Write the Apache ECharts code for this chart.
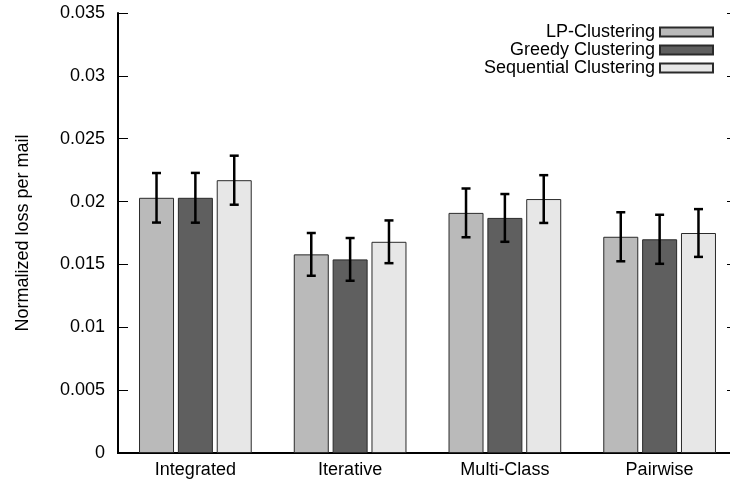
<!DOCTYPE html>
<html>
<head>
<meta charset="utf-8">
<script src="https://cdn.jsdelivr.net/npm/echarts@6/dist/echarts.min.js"></script>
<style>
  html, body { margin: 0; padding: 0; background: #fff; overflow: hidden; }
  #chart { width: 730px; height: 482px; }
</style>
</head>
<body>
<div id="chart"></div>
<script>
// Normalized loss per mail for each clustering strategy, with error-bar half-widths
const categories = ['Integrated', 'Iterative', 'Multi-Class', 'Pairwise'];
const seriesNames = ['LP-Clustering', 'Greedy Clustering', 'Sequential Clustering'];

const lpLoss = [0.0203, 0.0158, 0.0191, 0.0172];
const lpErr = [0.00197, 0.0017, 0.00194, 0.00195];

const greedyLoss = [0.0203, 0.0154, 0.0187, 0.0170];
const greedyErr = [0.00198, 0.0017, 0.0019, 0.00195];

const seqLoss = [0.0217, 0.0168, 0.0202, 0.0175];
const seqErr = [0.00195, 0.0017, 0.0019, 0.0019];

const yTicks = [0, 0.005, 0.01, 0.015, 0.02, 0.025, 0.03, 0.035];

const colors = ['#bababa', '#5f5f5f', '#e7e7e7'];
const BAR_W = 35;
const BAR_GAP_PCT = 11;

const FONT = '"Liberation Sans", Arial, Helvetica, sans-serif';

const chart = echarts.init(document.getElementById('chart'), null, { renderer: 'canvas' });

const losses = [lpLoss, greedyLoss, seqLoss];
const errs = [lpErr, greedyErr, seqErr];

function errorSeries(idx) {
  const step = BAR_W * (1 + BAR_GAP_PCT / 100);
  const offset = (idx - 1) * step;
  const data = categories.map((c, i) => [i, losses[idx][i] - errs[idx][i], losses[idx][i] + errs[idx][i]]);
  return {
    type: 'custom',
    name: seriesNames[idx] + ' error',
    data: data,
    z: 10,
    silent: true,
    renderItem: function (params, api) {
      const lo = api.coord([api.value(0), api.value(1)]);
      const hi = api.coord([api.value(0), api.value(2)]);
      const x = lo[0] + offset;
      const cap = 4.5;
      const style = { stroke: '#000', lineWidth: 2.5 };
      return {
        type: 'group',
        children: [
          { type: 'line', shape: { x1: x, y1: lo[1], x2: x, y2: hi[1] }, style: style },
          { type: 'line', shape: { x1: x - cap, y1: lo[1], x2: x + cap, y2: lo[1] }, style: style },
          { type: 'line', shape: { x1: x - cap, y1: hi[1], x2: x + cap, y2: hi[1] }, style: style }
        ]
      };
    }
  };
}

const barSeries = seriesNames.map((name, idx) => ({
  type: 'bar',
  name: name,
  data: losses[idx],
  barWidth: BAR_W,
  barGap: BAR_GAP_PCT + '%',
  itemStyle: { color: colors[idx], borderColor: '#2a2a2a', borderWidth: 1 },
  emphasis: { disabled: true }
}));

const yMin = yTicks[0];
const yMax = yTicks[yTicks.length - 1];
const yStep = yTicks[1] - yTicks[0];

const option = {
  animation: false,
  backgroundColor: '#ffffff',
  textStyle: { fontFamily: FONT },
  // the plot frame runs slightly past the right edge of the canvas
  grid: { left: 118, top: 13, width: 619, height: 440, containLabel: false, outerBoundsMode: 'none' },
  legend: {
    data: seriesNames,
    orient: 'vertical',
    align: 'right',
    icon: 'rect',
    right: 11,
    top: 18,
    itemWidth: 53,
    itemHeight: 9,
    itemGap: 0,
    selectedMode: false,
    textStyle: { fontFamily: FONT, fontSize: 18, color: '#000' }
  },
  xAxis: [
    {
      type: 'category',
      data: categories,
      axisLine: { show: true, lineStyle: { color: '#000', width: 2 } },
      axisTick: { show: false },
      axisLabel: { color: '#000', fontSize: 18, fontFamily: FONT, margin: 8 }
    },
    {
      type: 'category',
      data: categories,
      position: 'top',
      axisLine: { show: true, lineStyle: { color: '#000', width: 2 } },
      axisTick: { show: false },
      axisLabel: { show: false }
    }
  ],
  yAxis: [
    {
      type: 'value',
      min: yMin,
      max: yMax,
      interval: yStep,
      name: 'Normalized loss per mail',
      nameLocation: 'middle',
      nameGap: 86,
      nameTextStyle: { color: '#000', fontSize: 18, fontFamily: FONT },
      axisLine: { show: true, lineStyle: { color: '#000', width: 2 } },
      axisTick: { show: true, inside: true, length: 10, lineStyle: { color: '#000', width: 1 } },
      axisLabel: {
        color: '#000', fontSize: 18, fontFamily: FONT, margin: 13,
        formatter: v => String(+v.toFixed(3))
      },
      splitLine: { show: false }
    },
    {
      type: 'value',
      position: 'right',
      min: yMin,
      max: yMax,
      interval: yStep,
      axisLine: { show: true, lineStyle: { color: '#000', width: 2 } },
      axisTick: { show: true, inside: true, length: 10, lineStyle: { color: '#000', width: 1 } },
      axisLabel: { show: false },
      splitLine: { show: false }
    }
  ],
  series: barSeries.concat([0, 1, 2].map(errorSeries))
};

chart.setOption(option);
</script>
</body>
</html>
